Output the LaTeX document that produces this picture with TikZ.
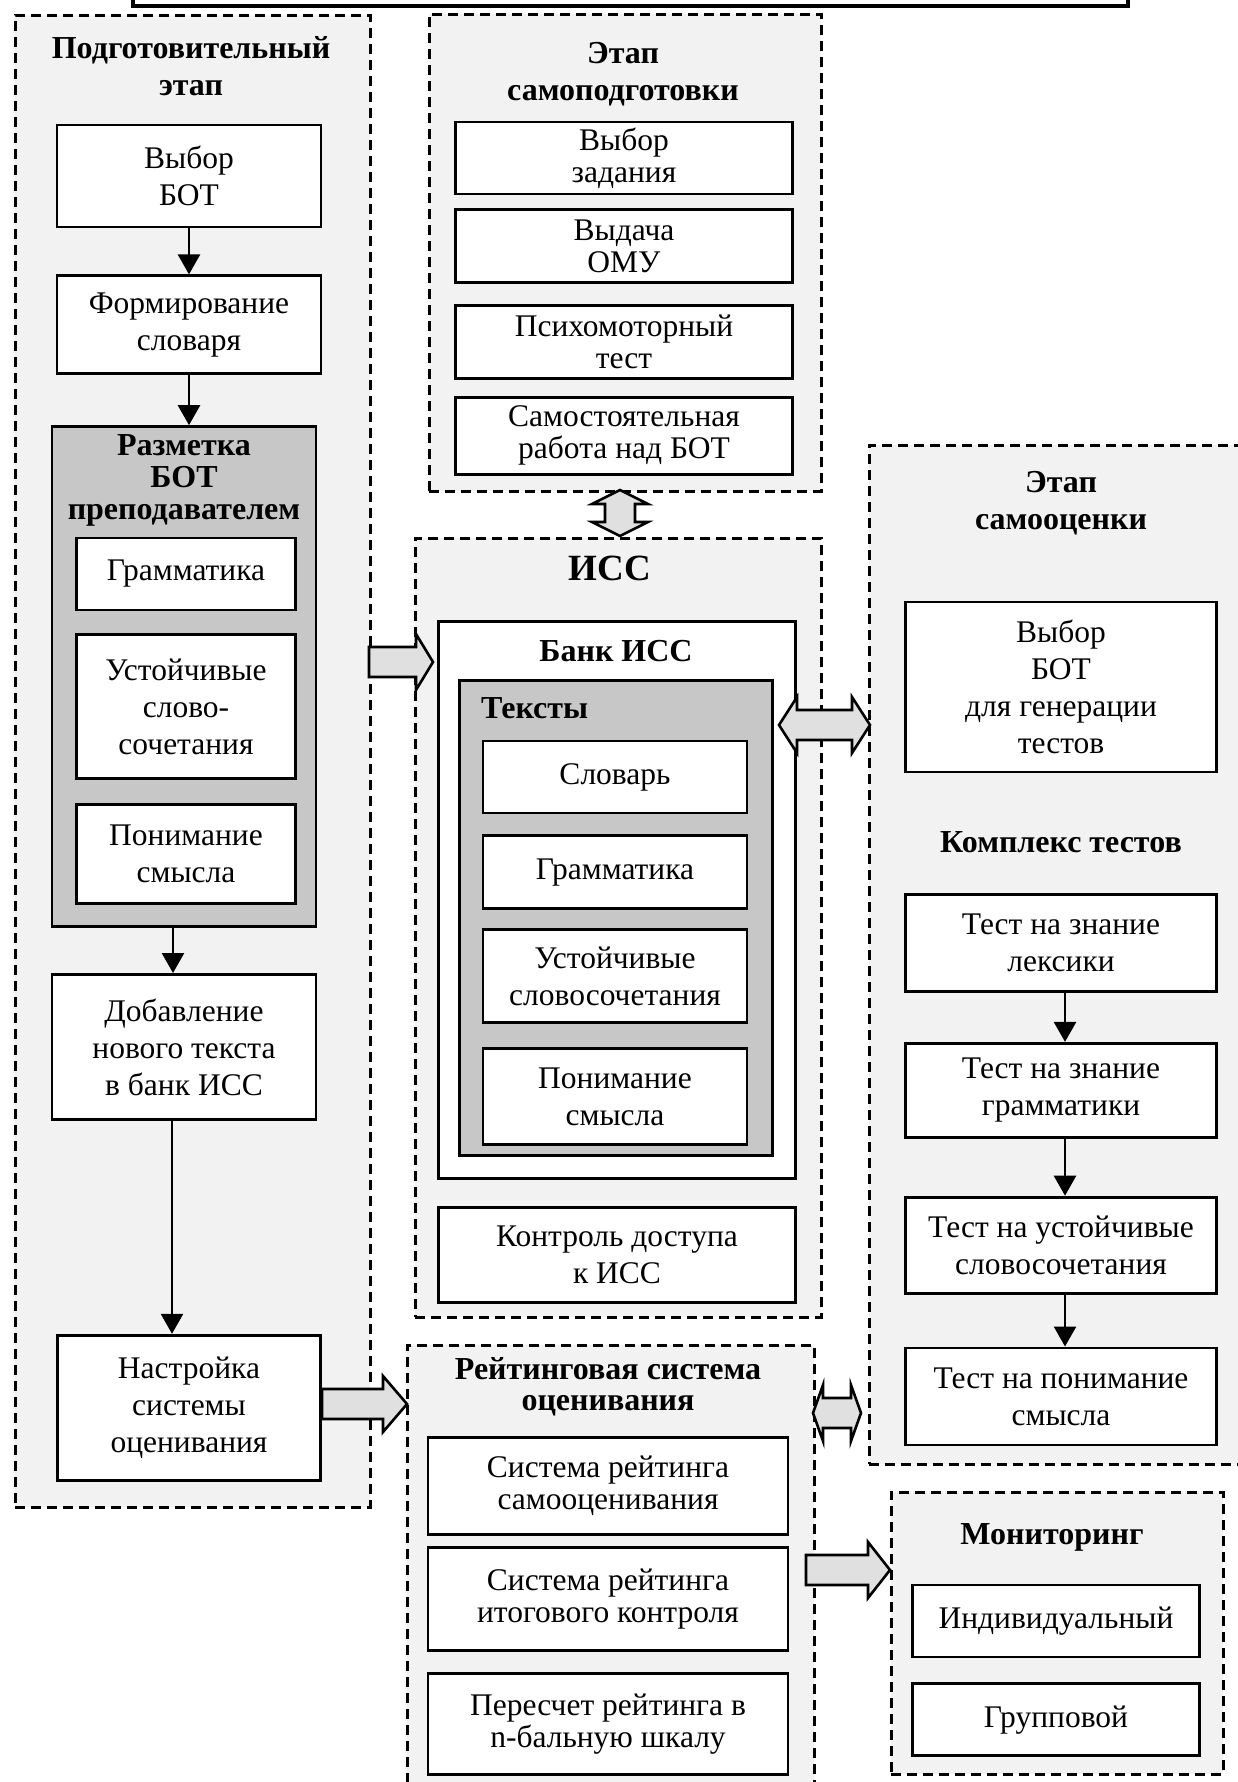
\documentclass[tikz,border=0pt]{standalone}
\usepackage{fontspec}
\setmainfont{Liberation Serif}
\usetikzlibrary{arrows.meta,positioning}
\tikzset{
  stagebox/.style={draw,line width=2.6pt,dash pattern=on 10pt off 6pt,
    fill=black!5,inner sep=0pt},
  stepblock/.style={draw,line width=2.8pt,fill=white,align=center,
    inner sep=2pt,font=\fontsize{31.5}{37}\selectfont},
  tightblock/.style={stepblock,font=\fontsize{31.5}{32}\selectfont},
  shadeblock/.style={draw,line width=2.8pt,fill=black!22,inner sep=0pt},
  ttl/.style={align=center,inner sep=0pt,font=\fontsize{32}{37}\selectfont\bfseries},
  darrow/.style={-{Triangle[length=20pt,width=22pt]},line width=2.6pt},
  fatline/.style={line width=2.6pt,fill=black!12,line join=miter},
  pics/fatarrow/.style args={#1/#2}{code={
    \draw[fatline] (0,-15) -- ({#1-#2},-15) -- ({#1-#2},-28) -- (#1,0)
      -- ({#1-#2},28) -- ({#1-#2},15) -- (0,15) -- cycle;}},
  pics/fatboth/.style args={#1/#2}{code={
    \draw[fatline] (0,0) -- (#2,-28) -- (#2,-15) -- ({#1-#2},-15)
      -- ({#1-#2},-28) -- (#1,0) -- ({#1-#2},28) -- ({#1-#2},15)
      -- (#2,15) -- (#2,28) -- cycle;}}
}
\begin{document}
\begin{tikzpicture}[x=1pt,y=-1pt]
  \useasboundingbox (0,0) rectangle (1238,1782);
  \clip (0,0) rectangle (1238,1782);
  % title bar, cut off at the top
  \draw[line width=4pt] (133,-40) rectangle (1128,6);

  % stage containers
  \node[stagebox,anchor=north west,minimum width=355,minimum height=1492] (prep) at (14,14) {};
  \node[stagebox,anchor=north west,minimum width=392,minimum height=477] (self) at (428,13) {};
  \node[stagebox,anchor=north west,minimum width=406,minimum height=779] (iss) at (414,537) {};
  \node[stagebox,anchor=north west,minimum width=390,minimum height=1019] (eval) at (868,444) {};
  \node[stagebox,anchor=north west,minimum width=407,minimum height=470] (rate) at (406,1344) {};
  \node[stagebox,anchor=north west,minimum width=332,minimum height=282] (mon) at (890,1491) {};

  % Preparatory stage
  \node[ttl] (prept) at (191,66) {Подготовительный\\этап};
  \node[stepblock,minimum width=264,minimum height=102] (n1) at (189,176) {Выбор\\БОТ};
  \node[stepblock,minimum width=264,minimum height=98,below=46pt of n1] (n2) {Формирование\\словаря};
  \node[shadeblock,minimum width=264,minimum height=500,below=50pt of n2,xshift=-5pt] (n3) {};
  \node[ttl,font=\fontsize{32}{32}\selectfont\bfseries] (n3t) at (184,480) {Разметка\\БОТ\\преподавателем};
  \node[stepblock,minimum width=219,minimum height=72] (g1) at (186,574) {Грамматика};
  \node[stepblock,minimum width=219,minimum height=144,below=22pt of g1] (g2) {Устойчивые\\слово-\\сочетания};
  \node[stepblock,minimum width=219,minimum height=99,below=23pt of g2] (g3) {Понимание\\смысла};
  \node[stepblock,minimum width=264,minimum height=145,below=45pt of n3] (n4) {Добавление\\нового текста\\в банк ИСС};
  \node[stepblock,minimum width=263,minimum height=145,below=213pt of n4,xshift=5pt] (n5) {Настройка\\системы\\оценивания};

  \draw[darrow] (n1) -- (n2);
  \draw[darrow] (n2.south) -- (n2.south |- n3.north);
  \draw[darrow] ([xshift=-11pt]n3.south) -- ([xshift=-11pt]n3.south |- n4.north);
  \draw[darrow] ([xshift=-12pt]n4.south) -- ([xshift=-12pt]n4.south |- n5.north);

  % Self-preparation stage
  \node[ttl] (selft) at (623,74) {Этап\\самоподготовки};
  \node[tightblock,minimum width=337,minimum height=72] (s1) at (624,158) {Выбор\\задания};
  \node[tightblock,minimum width=337,minimum height=73,below=13pt of s1] (s2) {Выдача\\ОМУ};
  \node[tightblock,minimum width=337,minimum height=73,below=20pt of s2] (s3) {Психомоторный\\тест};
  \node[tightblock,minimum width=337,minimum height=77,below=16pt of s3] (s4) {Самостоятельная\\работа над БОТ};

  % ISS
  \node[ttl,font=\fontsize{37}{40}\selectfont\bfseries] (isst) at (610,568) {ИСС};
  \node[stepblock,anchor=north,minimum width=357,minimum height=557] (bank) at (617,620) {};
  \node[ttl] (bankt) at (616,651) {Банк ИСС};
  \node[shadeblock,anchor=north,minimum width=313,minimum height=475] (texts) at (616,679) {};
  \node[ttl,anchor=west] (textst) at (481,708) {Тексты};
  \node[stepblock,minimum width=264,minimum height=72] (t1) at (615,777) {Словарь};
  \node[stepblock,minimum width=264,minimum height=73,below=20pt of t1] (t2) {Грамматика};
  \node[stepblock,minimum width=264,minimum height=93,below=18pt of t2] (t3) {Устойчивые\\словосочетания};
  \node[stepblock,minimum width=264,minimum height=96,below=23pt of t3] (t4) {Понимание\\смысла};
  \node[stepblock,minimum width=357,minimum height=95,below=26pt of bank] (access) {Контроль доступа\\к ИСС};

  % Self-assessment stage
  \node[ttl] (evalt) at (1061,503) {Этап\\самооценки};
  \node[stepblock,minimum width=311,minimum height=170] (a1) at (1061,687) {Выбор\\БОТ\\для генерации\\тестов};
  \node[ttl] (testst) at (1061,842) {Комплекс тестов};
  \node[stepblock,minimum width=311,minimum height=97] (a2) at (1061,943) {Тест на знание\\лексики};
  \node[stepblock,minimum width=311,minimum height=94,below=49pt of a2] (a3) {Тест на знание\\грамматики};
  \node[stepblock,minimum width=311,minimum height=96,below=57pt of a3] (a4) {Тест на устойчивые\\словосочетания};
  \node[stepblock,minimum width=311,minimum height=97,below=52pt of a4] (a5) {Тест на понимание\\смысла};

  \foreach \a/\b in {a2/a3,a3/a4,a4/a5}
    \draw[darrow] ([xshift=4pt]\a.south) -- ([xshift=4pt]\a.south |- \b.north);

  % Rating system
  \node[ttl,font=\fontsize{32}{31}\selectfont\bfseries] (ratet) at (608,1387) {Рейтинговая система\\оценивания};
  \node[tightblock,minimum width=360,minimum height=97] (r1) at (608,1486) {Система рейтинга\\самооценивания};
  \node[tightblock,minimum width=360,minimum height=103,below=10pt of r1] (r2) {Система рейтинга\\итогового контроля};
  \node[tightblock,minimum width=360,minimum height=101,below=20pt of r2] (r3) {Пересчет рейтинга в\\n-бальную шкалу};

  % Monitoring
  \node[ttl] (mont) at (1052,1537) {Мониторинг};
  \node[stepblock,minimum width=287,minimum height=72] (m1) at (1056,1621) {Индивидуальный};
  \node[stepblock,minimum width=287,minimum height=72,below=24pt of m1] (m2) {Групповой};

  % broad arrows between stages
  \pic at (369,662) {fatarrow=64/17};
  \pic at (322,1404) {fatarrow=85/24};
  \pic at (806,1570) {fatarrow=84/22};
  \pic at (779,725) {fatboth=91/18};
  \pic at (813,1413) {fatboth=48/10};
  \pic[rotate=-90] at (620,490) {fatboth=46/14};
\end{tikzpicture}
\end{document}
